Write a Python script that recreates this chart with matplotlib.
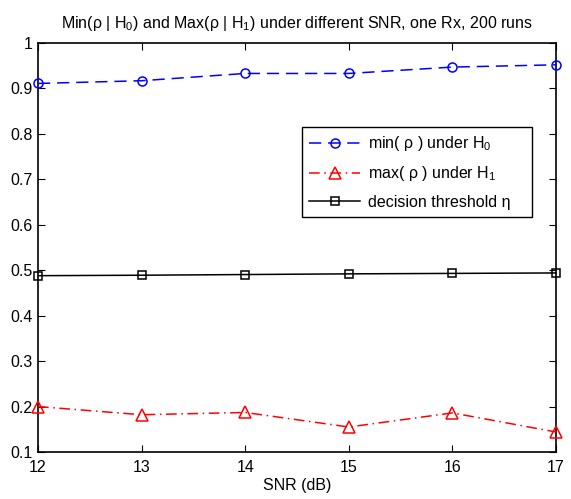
import matplotlib
matplotlib.use("Agg")
import matplotlib.pyplot as plt

plt.rcParams["font.family"] = ["Liberation Sans", "DejaVu Sans"]
plt.rcParams["mathtext.fontset"] = "custom"
plt.rcParams["mathtext.rm"] = "Liberation Sans"
plt.rcParams["mathtext.it"] = "Liberation Sans:italic"

snr = [12, 13, 14, 15, 16, 17]
min_rho_h0 = [0.911, 0.917, 0.933, 0.933, 0.947, 0.952]
max_rho_h1 = [0.200, 0.182, 0.187, 0.155, 0.186, 0.144]
threshold = [0.488, 0.489, 0.4905, 0.492, 0.493, 0.494]
yticks = [0.1, 0.2, 0.3, 0.4, 0.5, 0.6, 0.7, 0.8, 0.9, 1.0]
ytick_labels = ["0.1", "0.2", "0.3", "0.4", "0.5", "0.6", "0.7", "0.8", "0.9", "1"]

fs = 11.5
fig = plt.figure(figsize=(5.71, 4.99), dpi=100)
ax = fig.add_axes([38 / 571, 1 - 452 / 499, 518 / 571, 409 / 499])

ax.plot(snr, min_rho_h0, color="#0000ff", ls=(0, (8, 4.5)), lw=1.1, marker="o",
        ms=6.5, mfc="none", mew=1.1, label=r"min( ρ ) under $\mathregular{H_0}$",
        clip_on=False, zorder=3)
ax.plot(snr, max_rho_h1, color="#ff0000", ls=(0, (7, 3, 1, 3)), lw=1.1, marker="^",
        ms=8, mfc="none", mew=1.1, label=r"max( ρ ) under $\mathregular{H_1}$",
        clip_on=False, zorder=3)
ax.plot(snr, threshold, color="black", ls="-", lw=1.1, marker="s",
        ms=6, mfc="none", mew=1.1, label="decision threshold η",
        clip_on=False, zorder=3)

ax.set_xlim(12, 17)
ax.set_ylim(0.1, 1.0)
ax.set_xticks(snr)
ax.set_yticks(yticks)
ax.set_yticklabels(ytick_labels)
ax.tick_params(direction="in", top=True, right=True, labelsize=fs,
               length=5, width=0.8)
ax.tick_params(axis="x", pad=6)
ax.tick_params(axis="y", pad=4)
for s in ax.spines.values():
    s.set_linewidth(1.2)

ax.set_xlabel("SNR (dB)", fontsize=fs, labelpad=2)
ax.set_title(r"Min(ρ | $\mathregular{H_0}$) and Max(ρ | $\mathregular{H_1}$) under different SNR, one Rx, 200 runs",
             fontsize=fs, pad=11)

# legend box placed where the reference has it (302..532 px wide)
leg = ax.legend(loc="upper left",
                bbox_to_anchor=(302 / 571, 1 - 218 / 499, 230 / 571, 91 / 499),
                bbox_transform=fig.transFigure, mode="expand", fontsize=fs,
                frameon=True, fancybox=False, edgecolor="black", framealpha=1,
                handlelength=3.2, borderpad=0.45, labelspacing=0.7,
                handletextpad=0.5, borderaxespad=0)
leg.get_frame().set_linewidth(1.0)

fig.savefig("out.png", dpi=100, facecolor="white")
